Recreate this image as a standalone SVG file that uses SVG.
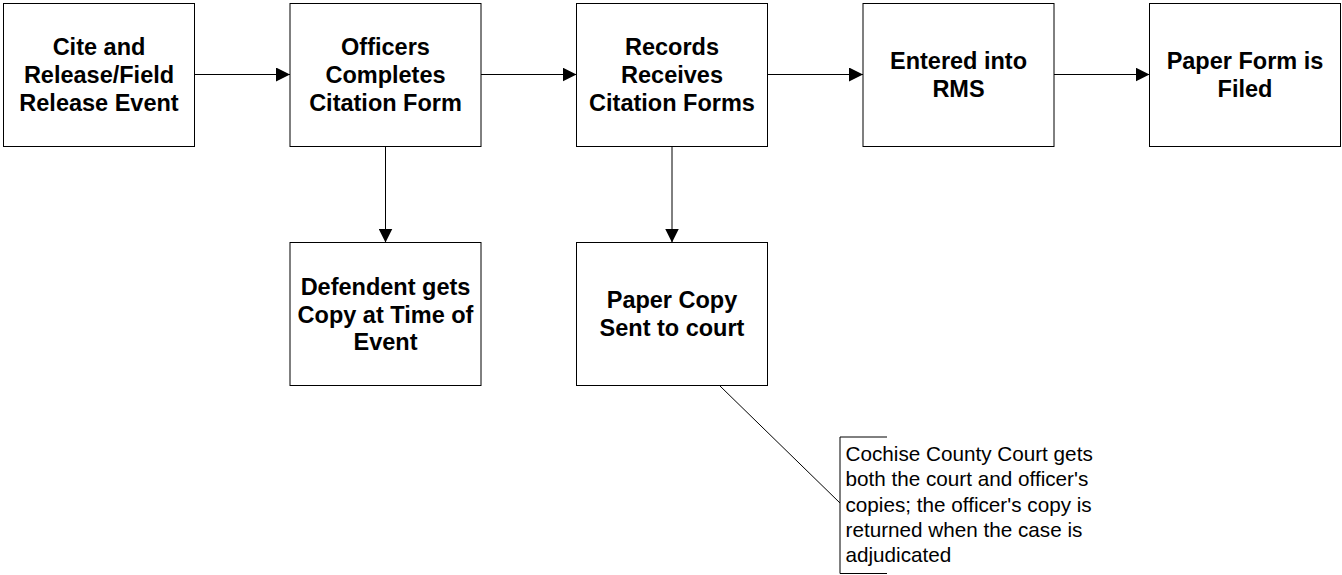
<svg xmlns="http://www.w3.org/2000/svg" width="1342" height="575" viewBox="0 0 1342 575">
<style>
.box{fill:#fff;stroke:#000;stroke-width:1}
.t{font-family:"Liberation Sans",Arial,sans-serif;font-weight:bold;font-size:23.5px;fill:#000;text-anchor:middle}
.n{font-family:"Liberation Sans",Arial,sans-serif;font-size:20.7px;fill:#000}
.c{stroke:#000;stroke-width:1;fill:none}
</style>
<defs>
<marker id="ah" markerWidth="14" markerHeight="14" refX="14" refY="7" orient="auto" markerUnits="userSpaceOnUse">
<path d="M0,0 L14,7 L0,14 Z" fill="#000"/>
</marker>
</defs>
<g id="connectors">
<line class="c" x1="194.5" y1="74.5" x2="290" y2="74.5" marker-end="url(#ah)"/>
<line class="c" x1="481" y1="74.5" x2="576.5" y2="74.5" marker-end="url(#ah)"/>
<line class="c" x1="767.5" y1="74.5" x2="863" y2="74.5" marker-end="url(#ah)"/>
<line class="c" x1="1054" y1="74.5" x2="1149.5" y2="74.5" marker-end="url(#ah)"/>
<line class="c" x1="385.5" y1="147" x2="385.5" y2="242.5" marker-end="url(#ah)"/>
<line class="c" x1="672" y1="147" x2="672" y2="242.5" marker-end="url(#ah)"/>
<line class="c" x1="720" y1="386" x2="840" y2="503"/>
</g>
<g id="n1">
<rect class="box" x="3.5" y="3.5" width="191" height="143"/>
<text class="t" x="99" y="55">Cite and</text>
<text class="t" x="99" y="83">Release/Field</text>
<text class="t" x="99" y="111">Release Event</text>
</g>
<g id="n2">
<rect class="box" x="290" y="3.5" width="191" height="143"/>
<text class="t" x="385.5" y="55">Officers</text>
<text class="t" x="385.5" y="83">Completes</text>
<text class="t" x="385.5" y="111">Citation Form</text>
</g>
<g id="n3">
<rect class="box" x="576.5" y="3.5" width="191" height="143"/>
<text class="t" x="672" y="55">Records</text>
<text class="t" x="672" y="83">Receives</text>
<text class="t" x="672" y="111">Citation Forms</text>
</g>
<g id="n4">
<rect class="box" x="863" y="3.5" width="191" height="143"/>
<text class="t" x="958.5" y="69">Entered into</text>
<text class="t" x="958.5" y="97">RMS</text>
</g>
<g id="n5">
<rect class="box" x="1149.5" y="3.5" width="191" height="143"/>
<text class="t" x="1245" y="69">Paper Form is</text>
<text class="t" x="1245" y="97">Filed</text>
</g>
<g id="n6">
<rect class="box" x="290" y="242.5" width="191" height="143"/>
<text class="t" x="385.5" y="295">Defendent gets</text>
<text class="t" x="385.5" y="322.5">Copy at Time of</text>
<text class="t" x="385.5" y="350">Event</text>
</g>
<g id="n7">
<rect class="box" x="576.5" y="242.5" width="191" height="143"/>
<text class="t" x="672" y="308">Paper Copy</text>
<text class="t" x="672" y="336">Sent to court</text>
</g>
<g id="note">
<path class="c" d="M887,437 H840 V573.5 H887"/>
<text class="n" x="845.5" y="461">Cochise County Court gets</text>
<text class="n" x="845.5" y="486.3">both the court and officer's</text>
<text class="n" x="845.5" y="511.6">copies; the officer's copy is</text>
<text class="n" x="845.5" y="536.9">returned when the case is</text>
<text class="n" x="845.5" y="562.2">adjudicated</text>
</g>
</svg>
